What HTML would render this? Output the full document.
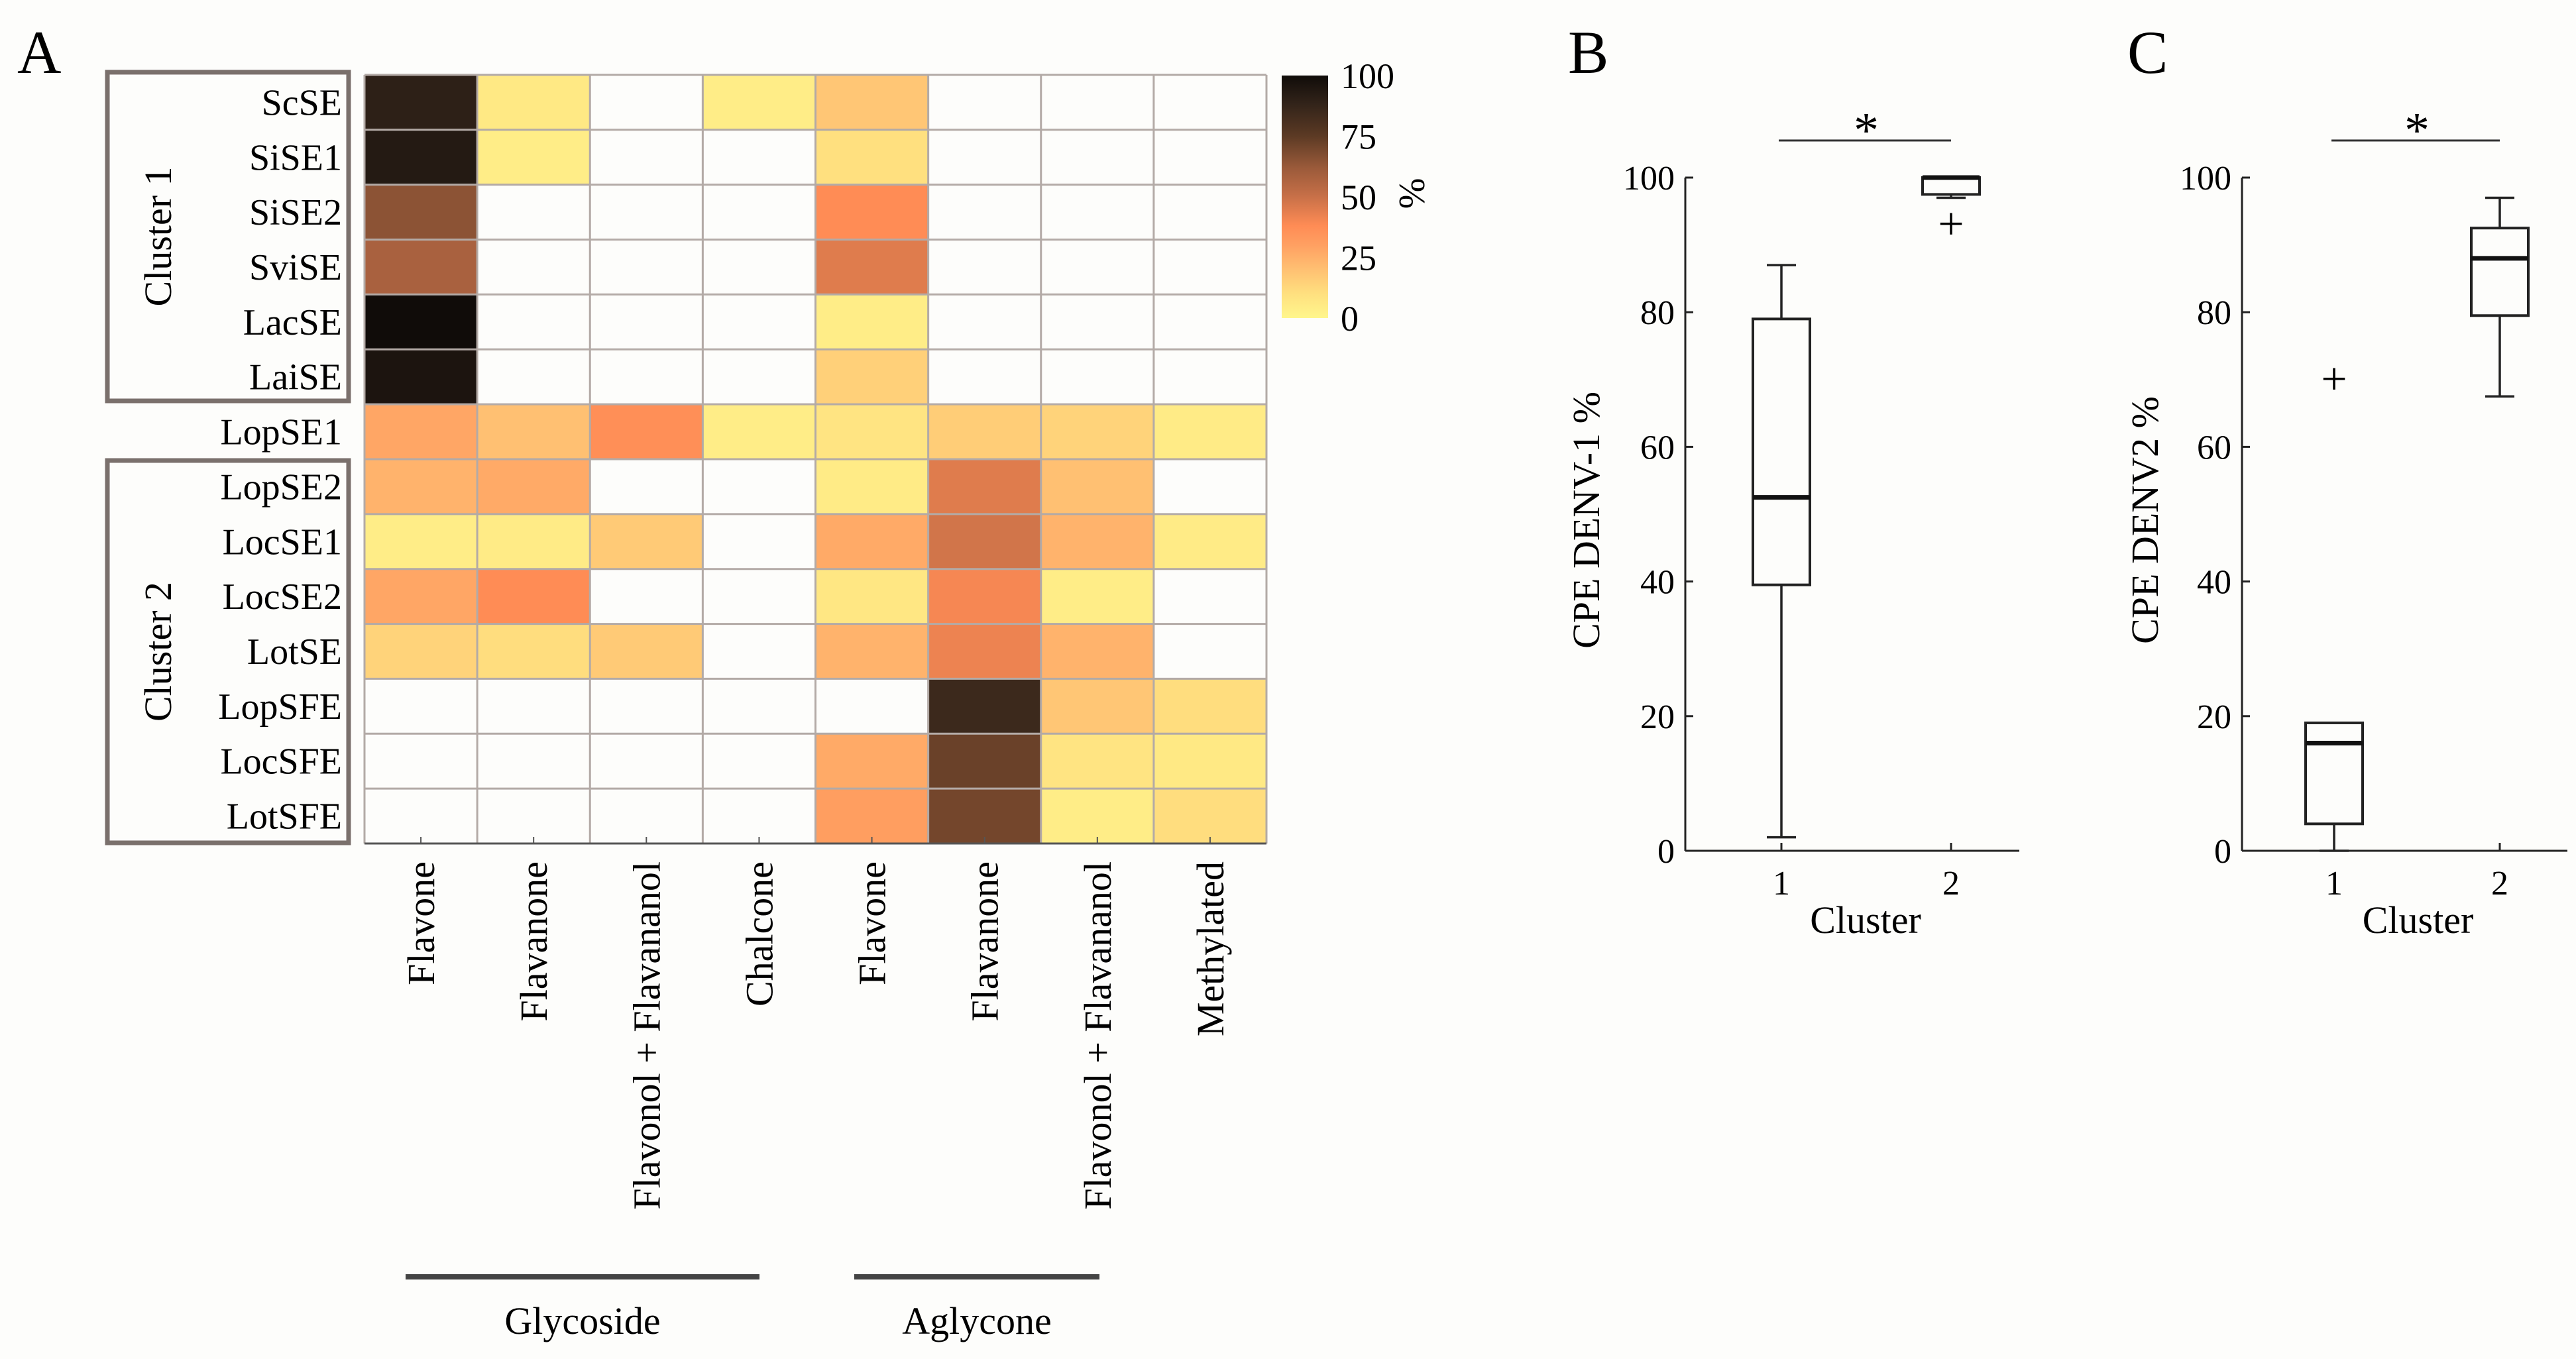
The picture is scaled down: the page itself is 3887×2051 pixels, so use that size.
<!DOCTYPE html>
<html><head><meta charset="utf-8"><style>
html,body{margin:0;padding:0;background:#fdfdfb;}
svg{display:block;}
svg text{font-family:"Liberation Serif","DejaVu Serif",serif;}
</style></head><body>
<svg id="fig" width="3887" height="2051" viewBox="0 0 3887 2051" xmlns="http://www.w3.org/2000/svg" font-family="Liberation Serif, serif">
<rect width="3887" height="2051" fill="#fdfdfb"/>
<defs><linearGradient id="cmap" x1="0" y1="1" x2="0" y2="0"></linearGradient></defs>
<g id="hm"></g>
<g id="pb"></g>
<g id="pc"></g>
</svg>
<script>
const rowLabels = ["ScSE","SiSE1","SiSE2","SviSE","LacSE","LaiSE","LopSE1","LopSE2","LocSE1","LocSE2","LotSE","LopSFE","LocSFE","LotSFE"];
const colLabels = ["Flavone","Flavanone","Flavonol + Flavananol","Chalcone","Flavone","Flavanone","Flavonol + Flavananol","Methylated"];
const heatValues = [
 [90,6,null,4,18,null,null,null],
 [93,4,null,null,10,null,null,null],
 [65,null,null,null,38,null,null,null],
 [58,null,null,null,45,null,null,null],
 [100,null,null,null,4,null,null,null],
 [96,null,null,null,15,null,null,null],
 [28,20,37,4,8,16,14,5],
 [24,27,null,null,5,45,20,null],
 [4,5,17,null,27,48,24,5],
 [28,38,null,null,7,40,4,null],
 [14,11,17,null,24,42,24,null],
 [null,null,null,null,null,85,18,11],
 [null,null,null,null,27,72,8,6],
 [null,null,null,null,31,70,4,11]
];
const cbTicks = [0,25,50,75,100];
const boxTicks = [0,20,40,60,80,100];
const clusterCats = ["1","2"];
// [min, q1, median, q3, max]
const denv1Stats = [[2,39.5,52.5,79,87],[97,97.5,100,100,100]];
const denv1Outliers = [[],[93]];
const denv2Stats = [[0,4,16,19,19],[67.5,79.5,88,92.5,97]];
const denv2Outliers = [[70],[]];

const NS="http://www.w3.org/2000/svg";
const FF='"Liberation Serif","DejaVu Serif",serif';
function el(parent,tag,attrs,text){const e=document.createElementNS(NS,tag);for(const k in attrs)e.setAttribute(k,attrs[k]);if(tag==='text')e.style.fontFamily=FF;if(text!==undefined)e.textContent=text;parent.appendChild(e);return e;}

const stops=[[0,"#fff68c"],[0.1,"#ffe07f"],[0.2,"#ffc072"],[0.3,"#ffa062"],[0.38,"#ff8c55"],[0.5,"#c87048"],[0.62,"#9a5a3a"],[0.75,"#5c3a24"],[0.88,"#33241a"],[1,"#100c09"]];
function hex(h){return [1,3,5].map(i=>parseInt(h.substr(i,2),16));}
function cmap(v){const t=Math.max(0,Math.min(1,v/100));for(let i=1;i<stops.length;i++){if(t<=stops[i][0]){const a=stops[i-1],b=stops[i];const f=(t-a[0])/(b[0]-a[0]);const ca=hex(a[1]),cb=hex(b[1]);return "rgb("+ca.map((c,j)=>Math.round(c+(cb[j]-c)*f)).join(",")+")";}}return stops[stops.length-1][1];}
const grad=document.getElementById('cmap');
stops.forEach(s=>el(grad,'stop',{offset:s[0],'stop-color':s[1]}));

// ---------- Heatmap ----------
const hm=document.getElementById('hm');
const HX0=550,HX1=1911,HY0=113,HY1=1273;
const cw=(HX1-HX0)/colLabels.length, rh=(HY1-HY0)/rowLabels.length;
const xCol=i=>HX0+i*cw, yRow=i=>HY0+i*rh;
let t=el(hm,'text',{x:26,y:110,'font-size':92},'A');


heatValues.forEach((row,r)=>row.forEach((v,c)=>{
  const rc=el(hm,'rect',{x:xCol(c),y:yRow(r),width:cw,height:rh,fill:v===null?'#fdfdfb':cmap(v)});
  
  
}));
for(let r=0;r<=rowLabels.length;r++){const l=el(hm,'line',{x1:HX0,x2:HX1,y1:yRow(r),y2:yRow(r),stroke:'#b3aaa6','stroke-width':3});
  }
for(let c=0;c<=colLabels.length;c++){const l=el(hm,'line',{x1:xCol(c),x2:xCol(c),y1:HY0,y2:HY1,stroke:'#b3aaa6','stroke-width':3});
  }
let ax=el(hm,'line',{x1:HX0,x2:HX1,y1:HY1,y2:HY1,stroke:'#555','stroke-width':3});

rowLabels.forEach((lab,r)=>{
  const tx=el(hm,'text',{x:516,y:yRow(r)+rh/2+19,'font-size':56,'text-anchor':'end'},lab);
  
  
});
colLabels.forEach((lab,c)=>{
  const cx=xCol(c)+cw/2;
  const tk=el(hm,'line',{x1:cx,x2:cx,y1:HY1,y2:HY1-10,stroke:'#555','stroke-width':2});
  
  const tx=el(hm,'text',{x:0,y:0,'font-size':58,'text-anchor':'end',transform:'translate('+(cx+20)+',1300) rotate(-90)'},lab);
  
  
});
[[109,605,'Cluster 1'],[695,1272,'Cluster 2']].forEach((b,i)=>{
  const r=el(hm,'rect',{x:162,y:b[0],width:364,height:b[1]-b[0],fill:'none',stroke:'#7a706c','stroke-width':7});
  
  const tx=el(hm,'text',{x:0,y:0,'font-size':58,'text-anchor':'middle',transform:'translate(258,'+((b[0]+b[1])/2)+') rotate(-90)'},b[2]);
  
});
[[612,1146,'Glycoside'],[1289,1659,'Aglycone']].forEach(g=>{
  const l=el(hm,'line',{x1:g[0],x2:g[1],y1:1927,y2:1927,stroke:'#444','stroke-width':8});
  
  const tx=el(hm,'text',{x:(g[0]+g[1])/2,y:2013,'font-size':58,'text-anchor':'middle'},g[2]);
  
});
const CB0=114,CB1=480;
const cbr=el(hm,'rect',{x:1934,y:CB0,width:70,height:CB1-CB0,fill:'url(#cmap)'});

cbTicks.forEach(v=>{
  const y=CB1-(v/100)*(CB1-CB0);
  const tx=el(hm,'text',{x:2023,y:y+19,'font-size':54},String(v));
  
});
t=el(hm,'text',{x:0,y:0,'font-size':56,'text-anchor':'middle',transform:'translate(2112,292) rotate(90)'},'%');


// ---------- Boxplots ----------
function boxplot(g,o){
  const yS=v=>o.y0-(v/100)*(o.y0-o.y100);
  const xS=i=>o.xc[i];
  let e=el(g,'text',{x:o.letterX,y:110,'font-size':92},o.letter);
  
  e=el(g,'line',{x1:o.ax,x2:o.ax,y1:o.y100,y2:o.y0,stroke:'#222','stroke-width':3});
  
  e=el(g,'line',{x1:o.ax,x2:o.axEnd,y1:o.y0,y2:o.y0,stroke:'#222','stroke-width':3});
  
  boxTicks.forEach(v=>{
    const y=yS(v);
    let k=el(g,'line',{x1:o.ax,x2:o.ax+12,y1:y,y2:y,stroke:'#222','stroke-width':3});
    
    k=el(g,'text',{x:o.ax-16,y:y+18,'font-size':52,'text-anchor':'end'},String(v));
    
  });
  clusterCats.forEach((c,i)=>{
    let k=el(g,'line',{x1:xS(i),x2:xS(i),y1:o.y0,y2:o.y0-12,stroke:'#222','stroke-width':3});
    
    k=el(g,'text',{x:xS(i),y:o.y0+66,'font-size':52,'text-anchor':'middle'},c);
    
  });
  e=el(g,'text',{x:(o.ax+o.axEnd)/2+20,y:o.y0+124,'font-size':58,'text-anchor':'middle'},'Cluster');
  
  e=el(g,'text',{x:0,y:0,'font-size':58,'text-anchor':'middle',transform:'translate('+o.ylabX+',785) rotate(-90)'},o.ylab);
  
  const bw=86,cap=22;
  o.stats.forEach((s,i)=>{
    const x=xS(i);
    let k=el(g,'line',{x1:x,x2:x,y1:yS(s[0]),y2:yS(s[1]),stroke:'#222','stroke-width':3.5});
    
    k=el(g,'line',{x1:x,x2:x,y1:yS(s[3]),y2:yS(s[4]),stroke:'#222','stroke-width':3.5});
    
    k=el(g,'line',{x1:x-cap,x2:x+cap,y1:yS(s[0]),y2:yS(s[0]),stroke:'#222','stroke-width':3.5});
    
    k=el(g,'line',{x1:x-cap,x2:x+cap,y1:yS(s[4]),y2:yS(s[4]),stroke:'#222','stroke-width':3.5});
    
    k=el(g,'rect',{x:x-bw/2,y:yS(s[3]),width:bw,height:yS(s[1])-yS(s[3]),fill:'#fdfdfb',stroke:'#222','stroke-width':4});
    
    k=el(g,'line',{x1:x-bw/2,x2:x+bw/2,y1:yS(s[2]),y2:yS(s[2]),stroke:'#111','stroke-width':7});
    
    o.outl[i].forEach(v=>{
      k=el(g,'text',{x:x,y:yS(v)+22,'font-size':70,'text-anchor':'middle'},'+');
      
    });
  });
  e=el(g,'line',{x1:xS(0)-4,x2:xS(1),y1:212,y2:212,stroke:'#333','stroke-width':3});
  
  e=el(g,'text',{x:(xS(0)+xS(1))/2,y:222,'font-size':76,'text-anchor':'middle'},'*');
  
}
boxplot(document.getElementById('pb'),{letter:'B',letterX:2366,ax:2543,axEnd:3047,y0:1284,y100:268,xc:[2688,2944],ylab:'CPE DENV-1 %',ylabX:2413,stats:denv1Stats,outl:denv1Outliers});
boxplot(document.getElementById('pc'),{letter:'C',letterX:3210,ax:3383,axEnd:3874,y0:1284,y100:268,xc:[3522,3772],ylab:'CPE DENV2 %',ylabX:3256,stats:denv2Stats,outl:denv2Outliers});
</script>
</body></html>
